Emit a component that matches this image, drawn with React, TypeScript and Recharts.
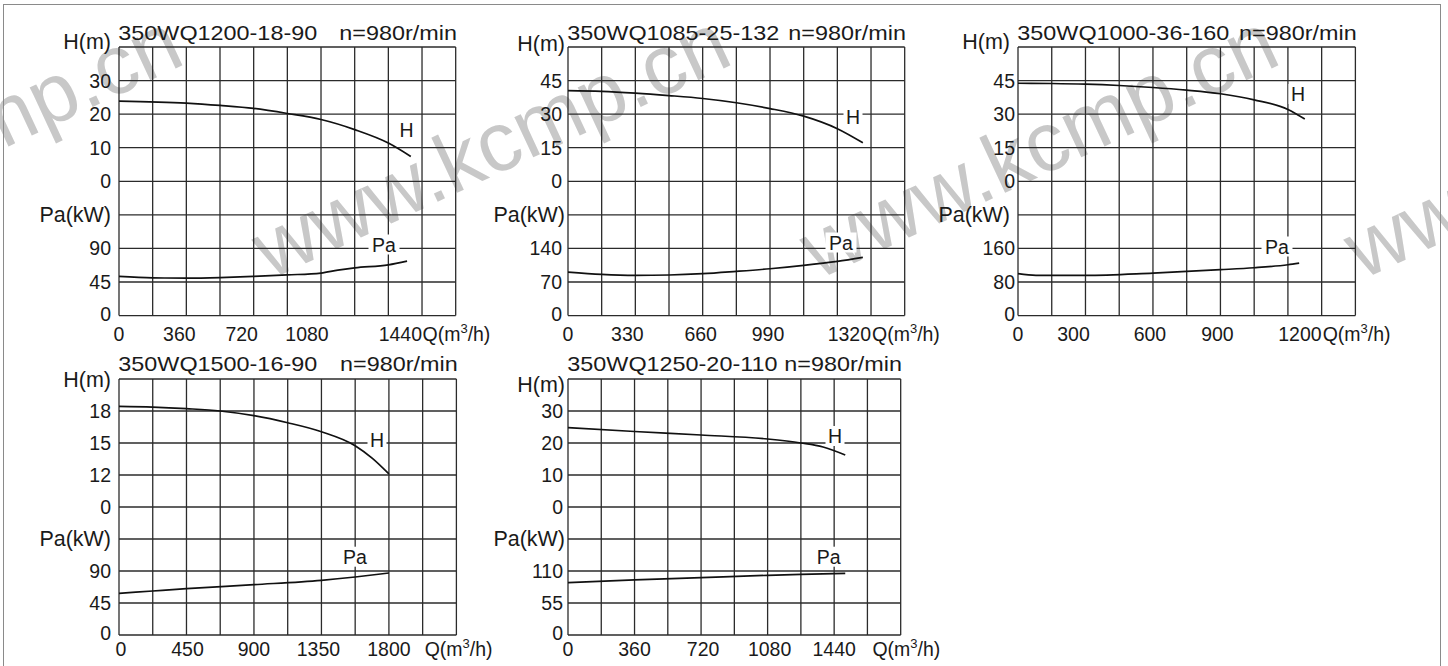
import { LineChart, Line, XAxis, YAxis, CartesianGrid } from 'recharts';

const FONT = '"Liberation Sans", Arial, Helvetica, sans-serif';

// 350WQ1200-18-90
const q1H = [0, 360, 540, 720, 900, 1080, 1260, 1440, 1560];
const h1 = [23.9, 23.3, 22.6, 21.7, 20.2, 18.4, 15.4, 11.4, 7.4];
const q1Pa = [0, 180, 360, 540, 720, 900, 1080, 1170, 1260, 1440, 1540];
const pa1 = [52.5, 50.5, 50.3, 51, 52.5, 54.5, 57, 61, 64, 68, 73];
const x1Labels = ['0', '360', '720', '1080', '1440'];
const h1Ticks = [0, 10, 20, 30];
const pa1Ticks = [0, 45, 90];

// 350WQ1085-25-132
const q2H = [0, 165, 330, 495, 660, 825, 990, 1155, 1320, 1445];
const h2 = [40.5, 40.2, 39.4, 38.3, 37.0, 35.1, 32.5, 29.1, 23.5, 17.2];
const q2Pa = [0, 165, 330, 495, 660, 825, 990, 1155, 1320, 1445];
const pa2 = [90.8, 85.9, 83.9, 84.6, 87.3, 92.2, 97.7, 104.6, 113, 121.3];
const x2Labels = ['0', '330', '660', '990', '1320'];
const h2Ticks = [0, 15, 30, 45];
const pa2Ticks = [0, 70, 140];

// 350WQ1000-36-160
const q3H = [0, 150, 300, 450, 600, 750, 900, 1050, 1200, 1275];
const h3 = [43.8, 43.7, 43.4, 42.8, 41.9, 40.7, 39.1, 36.4, 32.1, 27.8];
const q3Pa = [0, 80, 300, 600, 900, 1050, 1200, 1250];
const pa3 = [99.8, 95.8, 95.8, 101.4, 109.3, 114, 121.2, 125];
const x3Labels = ['0', '300', '600', '900', '1200'];
const h3Ticks = [0, 15, 30, 45];
const pa3Ticks = [0, 80, 160];

// 350WQ1500-16-90 (broken H axis: 0 then 12, 15, 18)
const q4H = [0, 225, 450, 675, 900, 1125, 1350, 1575, 1690, 1800];
const h4 = [18.44, 18.37, 18.22, 18.0, 17.56, 16.9, 16.06, 14.75, 13.56, 12.1];
const q4Pa = [0, 225, 450, 900, 1350, 1575, 1800];
const pa4 = [58.6, 61.9, 65.2, 70.8, 76.9, 81.6, 87.2];
const x4Labels = ['0', '450', '900', '1350', '1800'];
const h4Ticks = [0, 12, 15, 18];
const pa4Ticks = [0, 45, 90];

// 350WQ1250-20-110
const q5H = [0, 360, 720, 1080, 1260, 1380, 1500];
const h5 = [24.8, 23.6, 22.5, 21.25, 20.0, 18.75, 16.25];
const q5Pa = [0, 360, 720, 1080, 1260, 1500];
const pa5 = [90, 94.6, 98.6, 102.6, 104.3, 106];
const x5Labels = ['0', '360', '720', '1080', '1440'];
const h5Ticks = [0, 10, 20, 30];
const pa5Ticks = [0, 55, 110];

interface Panel {
  model: string;
  box: [number, number, number, number]; // plot area left, top, width, height
  titleY: number;
  xLabels: string[];
  xDx: number[];
  joined: boolean; // last number glued to the Q unit
  unitDx: number;
  xBase: number;
  yGap: number;
  titleGap: number;
  hmDy: number;
  hTicks: number[];
  paTicks: number[];
  qH: number[];
  h: number[];
  qPa: number[];
  pa: number[];
  hAt: [number, number];
  paAt: [number, number];
}

const panels: Panel[] = [
  {
    model: '350WQ1200-18-90', box: [119.3, 46.7, 336.7, 268.6], titleY: 40,
    xLabels: x1Labels, xDx: [0, -7, -12, -14, 0], joined: true, unitDx: 0.5, xBase: 25,
    yGap: 8, titleGap: 8, hmDy: -5, hTicks: h1Ticks, paTicks: pa1Ticks,
    qH: q1H, h: h1, qPa: q1Pa, pa: pa1, hAt: [406.5, 129.5], paAt: [384, 244.5],
  },
  {
    model: '350WQ1085-25-132', box: [568.3, 46.7, 336.7, 268.6], titleY: 40,
    xLabels: x2Labels, xDx: [0, -8, -2, -2, 0], joined: true, unitDx: 1, xBase: 25,
    yGap: 6, titleGap: 3, hmDy: -3, hTicks: h2Ticks, paTicks: pa2Ticks,
    qH: q2H, h: h2, qPa: q2Pa, pa: pa2, hAt: [853, 117], paAt: [841, 242.5],
  },
  {
    model: '350WQ1000-36-160', box: [1018.3, 46.7, 337.4, 268.6], titleY: 40,
    xLabels: x3Labels, xDx: [0, -12, -3, -3, 0], joined: true, unitDx: 1, xBase: 25,
    yGap: 3, titleGap: 8, hmDy: -5, hTicks: h3Ticks, paTicks: pa3Ticks,
    qH: q3H, h: h3, qPa: q3Pa, pa: pa3, hAt: [1298, 94], paAt: [1277, 246.5],
  },
  {
    model: '350WQ1500-16-90', box: [119.3, 379.3, 337.4, 256], titleY: 370.7,
    xLabels: x4Labels, xDx: [2, 1, 0, -3, 0], joined: false, unitDx: 2, xBase: 21,
    yGap: 8, titleGap: 8, hmDy: 1, hTicks: h4Ticks, paTicks: pa4Ticks,
    qH: q4H, h: h4, qPa: q4Pa, pa: pa4, hAt: [377, 439.7], paAt: [355, 556.7],
  },
  {
    model: '350WQ1250-20-110', box: [568.3, 379.3, 332.7, 256], titleY: 370.7,
    xLabels: x5Labels, xDx: [0, 0, 2, 2, 0], joined: false, unitDx: 5, xBase: 21,
    yGap: 5, titleGap: 3, hmDy: 6, hTicks: h5Ticks, paTicks: pa5Ticks,
    qH: q5H, h: h5, qPa: q5Pa, pa: pa5, hAt: [835, 436], paAt: [828.7, 556.7],
  },
];

const RPM = 'n=980r/min';
const ROWS = [0, 1, 2, 3, 4, 5, 6, 7, 8];

function mergeSeries(p: Panel) {
  const qs = Array.from(new Set([...p.qH, ...p.qPa])).sort((a, b) => a - b);
  return qs.map(q => {
    const hi = p.qH.indexOf(q);
    const pi = p.qPa.indexOf(q);
    return { q, h: hi >= 0 ? p.h[hi] : null, pa: pi >= 0 ? p.pa[pi] : null };
  });
}

const ML = 20, MT = 30, MR = 90, MB = 10, AXW = 110, AXH = 30;
const PLOT_X = ML + AXW;

function PumpPanel({ p }: { p: Panel }) {
  const [left, top, w, h] = p.box;
  const xStep = Number(p.xLabels[1]) / 2;
  const xTicks = ROWS.concat([9, 10]).map(i => i * xStep);
  const hStep = p.hTicks[2] - p.hTicks[1];
  const hDomain = [p.hTicks[1] - 5 * hStep, p.hTicks[1] + 3 * hStep];
  const paMax = p.paTicks[1] * 8;
  const rowLabels = [...p.paTicks.map(String), 'Pa(kW)', ...p.hTicks.map(String), 'H(m)'];
  const data = mergeSeries(p);

  const yTick = (props: any) => {
    const { y, payload } = props;
    const i = Math.round(payload.value);
    const isTitle = i === 3 || i === 8;
    return (
      <text
        x={PLOT_X - (isTitle ? p.titleGap : p.yGap)}
        y={y + (i === 8 ? p.hmDy : i === 0 ? -2 : 0)}
        dy={isTitle ? 7.5 : 7}
        textAnchor="end"
        fontSize={isTitle ? 21.5 : 19.5}
        fontFamily={FONT}
        fill="#1a1a1a"
      >
        {rowLabels[i]}
      </text>
    );
  };

  const unit = (x: number, y: number) => (
    <text x={x + p.unitDx} y={y} textAnchor="start" fontSize={19.5} fontFamily={FONT} fill="#1a1a1a">
      Q(m<tspan dy={-8} fontSize={13}>3</tspan><tspan dy={8}>/h)</tspan>
    </text>
  );

  const xTick = (props: any) => {
    const { x, y, payload } = props;
    const i = Math.round(payload.value / xStep);
    const base = y + p.xBase;
    if (i === 9) {
      return (
        <g>
          {p.joined && (
            <text x={x} y={base} textAnchor="end" fontSize={19.5} fontFamily={FONT} fill="#1a1a1a">
              {p.xLabels[4]}
            </text>
          )}
          {unit(x, base)}
        </g>
      );
    }
    if (i % 2 === 0 && i <= 8 && !(p.joined && i === 8)) {
      const k = i / 2;
      return (
        <text x={x + p.xDx[k]} y={base} textAnchor="middle" fontSize={19.5} fontFamily={FONT} fill="#1a1a1a">
          {p.xLabels[k]}
        </text>
      );
    }
    return <g />;
  };

  return (
    <div style={{ position: 'absolute', left: left - PLOT_X, top: top - MT }}>
      <LineChart
        width={w + PLOT_X + MR}
        height={h + MT + MB + AXH}
        data={data}
        margin={{ top: MT, right: MR, bottom: MB, left: ML }}
        style={{ overflow: 'visible' }}
      >
        <CartesianGrid yAxisId="row" stroke="#2b2b2b" strokeWidth={1.3} />
        <XAxis
          dataKey="q"
          type="number"
          domain={[0, xStep * 10]}
          ticks={xTicks}
          interval={0}
          height={AXH}
          axisLine={false}
          tickLine={false}
          tickSize={0}
          tickMargin={0}
          tick={xTick}
          allowDataOverflow
        />
        <YAxis
          yAxisId="row"
          type="number"
          domain={[0, 8]}
          ticks={ROWS}
          interval={0}
          width={AXW}
          axisLine={false}
          tickLine={false}
          tickSize={0}
          tickMargin={0}
          tick={yTick}
          allowDataOverflow
        />
        <YAxis yAxisId="h" type="number" hide domain={hDomain} allowDataOverflow />
        <YAxis yAxisId="pa" type="number" hide domain={[0, paMax]} allowDataOverflow />
        <Line
          yAxisId="h"
          dataKey="h"
          type="monotone"
          stroke="#111"
          strokeWidth={1.7}
          dot={false}
          connectNulls
          isAnimationActive={false}
        />
        <Line
          yAxisId="pa"
          dataKey="pa"
          type="monotone"
          stroke="#111"
          strokeWidth={1.7}
          dot={false}
          connectNulls
          isAnimationActive={false}
        />
      </LineChart>
    </div>
  );
}

const WATERMARK = 'www.kcmp.cn';
const watermarkStarts = [-278, 270, 818, 1362];

function CurveTag({ text, at }: { text: string; at: [number, number] }) {
  const tw = text.length === 1 ? 13 : 25;
  return (
    <g>
      <rect x={at[0] - tw / 2 - 3} y={at[1] - 10} width={tw + 6} height={20} fill="#fff" />
      <text x={at[0]} y={at[1] + 7} textAnchor="middle" fontSize={19.5} fontFamily={FONT} fill="#1a1a1a">
        {text}
      </text>
    </g>
  );
}

export default function App() {
  return (
    <div
      style={{
        position: 'absolute',
        left: 0,
        top: 0,
        width: 1448,
        height: 666,
        background: '#fff',
        overflow: 'hidden',
        fontFamily: FONT,
      }}
    >
      <svg width={1448} height={666} style={{ position: 'absolute', left: 0, top: 0 }}>
        {watermarkStarts.map(x => (
          <text
            key={x}
            transform={`translate(${x},280) rotate(-25)`}
            fontSize={84}
            fontFamily={FONT}
            fill="#c8c8c8"
          >
            {WATERMARK}
          </text>
        ))}
      </svg>
      <div
        style={{
          position: 'absolute',
          left: 3,
          top: 4,
          width: 1436,
          height: 720,
          border: '1.5px solid #8a8a8a',
        }}
      />
      {panels.map(p => (
        <PumpPanel key={p.model} p={p} />
      ))}
      <svg width={1448} height={666} style={{ position: 'absolute', left: 0, top: 0, pointerEvents: 'none' }}>
        {panels.map(p => (
          <g key={p.model}>
            <text
              transform={`translate(${p.box[0] - 1},${p.titleY}) scale(1.17,1)`}
              fontSize={20}
              fontFamily={FONT}
              fill="#1a1a1a"
            >
              {p.model}
            </text>
            <text
              transform={`translate(${p.box[0] + p.box[2] + 1},${p.titleY}) scale(1.17,1)`}
              textAnchor="end"
              fontSize={20}
              fontFamily={FONT}
              fill="#1a1a1a"
            >
              {RPM}
            </text>
            <CurveTag text="H" at={p.hAt} />
            <CurveTag text="Pa" at={p.paAt} />
          </g>
        ))}
      </svg>
    </div>
  );
}
